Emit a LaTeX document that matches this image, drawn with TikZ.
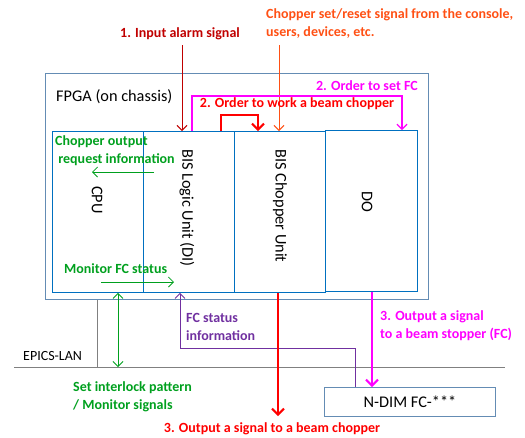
\documentclass[tikz,border=0pt]{standalone}
\usepackage{fontspec}
\setmainfont{Carlito}
\usetikzlibrary{arrows.meta}
\definecolor{cdkred}{RGB}{192,0,0}
\definecolor{corange}{RGB}{255,80,20}
\definecolor{cred}{RGB}{255,0,0}
\definecolor{cmag}{RGB}{255,0,255}
\definecolor{cgreen}{RGB}{0,160,30}
\definecolor{cpurple}{RGB}{112,48,160}
\definecolor{cblue}{RGB}{0,112,192}
\definecolor{csteel}{RGB}{100,140,180}

\begin{document}
\begin{tikzpicture}[x=1pt, y=-1pt,
      unit/.style={draw=cblue, line width=0.9pt, anchor=north west, inner sep=0pt},
      frame/.style={draw=csteel, line width=1pt, anchor=north west, inner sep=0pt},
      body/.style={font=\fontsize{16.3}{19}\selectfont, inner sep=0pt},
      lbl/.style={font=\fontsize{14}{18}\selectfont\bfseries, inner sep=0pt, align=left},
      tip/.style={-{Straight Barb[length=5pt, width=10pt]}},
      bigtip/.style={-{Straight Barb[length=6pt, width=12pt, line width=2pt]}}
    ]
    \useasboundingbox (0,0) rectangle (525,437);
    % boxes
    \node[frame, minimum width=383pt, minimum height=226pt] (fpga) at (45,73) {};
    \node[unit, minimum width=91pt, minimum height=161pt] (cpu) at (52,131) {};
    \node[unit, minimum width=91pt, minimum height=161pt] (logic) at (143,131) {};
    \node[unit, minimum width=91pt, minimum height=161pt] (chopper) at (234,131) {};
    \node[unit, minimum width=92pt, minimum height=161pt] (do) at (325,130) {};
    \node[frame, body, minimum width=171pt, minimum height=29pt] (ndim) at (324,387) {};
    \node[body] (ndimtxt) at (ndim.center) {N-DIM FC-***};
    \node[body, anchor=west] (fpgatxt) at (56,97) {FPGA (on chassis)};
    \node[body, rotate=-90] (cputxt) at (97,200) {CPU};
    \node[body, rotate=-90] (logictxt) at (187,208) {BIS Logic Unit (DI)};
    \node[body, rotate=-90] (choppertxt) at (280,206) {BIS Chopper Unit};
    \node[body, rotate=-90] (dotxt) at (367,202) {DO};

    % EPICS-LAN
    \coordinate (lanL) at (14,367);
    \coordinate (lanR) at (505,367);
    \coordinate (lanx) at (97,0);
    \draw[gray, line width=0.8pt] (lanL) -- (lanR);
    \draw[gray, line width=0.8pt] (fpga.south -| lanx) -- (lanx |- lanL);
    \node[body, anchor=west, font=\fontsize{14}{17}\selectfont] (lantxt) at (23,356) {EPICS-LAN};

    % 1. input alarm
    \coordinate (alarm) at (182,45);
    \draw[cdkred, line width=1pt, tip] (alarm) -- (alarm |- logic.north);
    \node[lbl, text=cdkred] (alarmtxt) at (180,34) {1. Input alarm signal};

    % chopper set/reset
    \coordinate (setrst) at (279,45);
    \draw[corange, line width=1pt, tip] (setrst) -- (setrst |- chopper.north);
    \node[lbl, text=corange, anchor=west] (setrsttxt) at (266,24)
      {Chopper set/reset signal from the console,\\users, devices, etc.};

    % 2. order to set FC
    \draw[cmag, line width=1.2pt, tip] ([xshift=49pt]logic.north west) -- ++(0,-35)
      -| ([xshift=77pt]do.north west);
    \node[lbl, text=cmag, anchor=east] (fctxt) at (418,86) {2. Order to set FC};

    % 2. order to work a beam chopper
    \draw[cred, line width=2pt, bigtip] ([xshift=78pt]logic.north west) -- ++(0,-16)
      -| ([xshift=24pt]chopper.north west);
    \node[lbl, text=cred] (worktxt) at (297,104) {2. Order to work a beam chopper};

    % CPU <-> logic
    \coordinate (reqA) at (154,172);
    \coordinate (reqB) at (92,172);
    \draw[cgreen, line width=0.8pt, tip] (reqA) -- (reqB);
    \node[lbl, text=cgreen, anchor=west] (reqtxt) at (55,151)
      {Chopper output\\\ request information};
    \coordinate (monA) at (101,282);
    \coordinate (monB) at (174,282);
    \draw[cgreen, line width=0.8pt, tip] (monA) -- (monB);
    \node[lbl, text=cgreen, anchor=west] (montxt) at (64,269) {Monitor FC status};
    \coordinate (ilkx) at (118,0);
    \draw[cgreen, line width=0.8pt, {Straight Barb[length=5pt, width=10pt]}-{Straight Barb[length=5pt, width=10pt]}]
      (cpu.south -| ilkx) -- (ilkx |- lanL);
    \node[lbl, text=cgreen, anchor=west] (ilktxt) at (73,397)
      {Set interlock pattern\\/ Monitor signals};

    % FC status back to logic
    \coordinate (statx) at (355,0);
    \coordinate (stbend) at (180,348);
    \draw[cpurple, line width=0.8pt, tip] (ndim.north -| statx) |- (stbend)
      -- (logic.south -| stbend);
    \node[lbl, text=cpurple, anchor=west] (stattxt) at (186,327) {FC status\\information};

    % 3. outputs
    \coordinate (outend) at (278,416);
    \draw[cred, line width=2pt, bigtip] (chopper.south -| outend) -- (outend);
    \node[lbl, text=cred] (outtxt) at (272,429) {3. Output a signal to a beam chopper};
    \coordinate (stopx) at (372,0);
    \draw[cmag, line width=2pt, bigtip] (do.south -| stopx) -- (ndim.north -| stopx);
    \node[lbl, text=cmag, anchor=west] (stoptxt) at (380,326)
      {3. Output a signal\\to a beam stopper (FC)};
  \end{tikzpicture}
\end{document}
